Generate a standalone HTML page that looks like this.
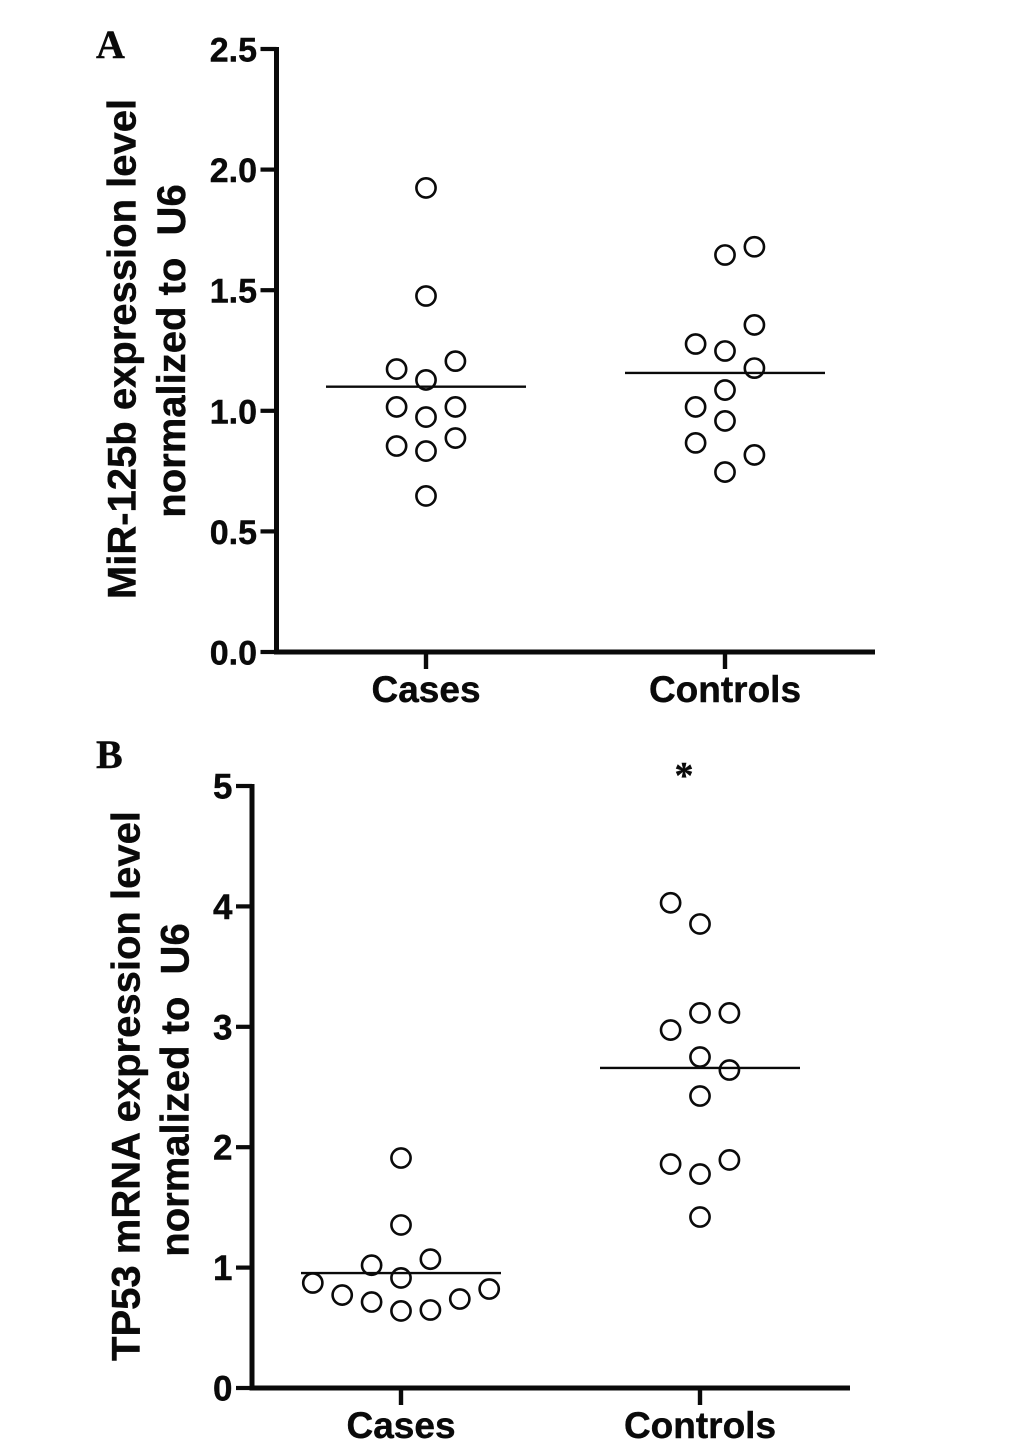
<!DOCTYPE html>
<html>
<head>
<meta charset="utf-8">
<style>
html,body{margin:0;padding:0;background:#fff;}
body{width:1033px;height:1450px;overflow:hidden;}
svg{display:block;}
text{font-family:"Liberation Sans",sans-serif;font-weight:bold;fill:#0a0a0a;stroke:#0a0a0a;stroke-width:0.4px;white-space:pre;}
</style>
</head>
<body>
<svg id="chart" width="1033" height="1450" viewBox="0 0 1033 1450" xmlns="http://www.w3.org/2000/svg"></svg>
<script>
const categories = ['Cases', 'Controls'];

const ticksA = ['0.0', '0.5', '1.0', '1.5', '2.0', '2.5'];
const casesA = [1.924, 1.476, 1.173, 1.206, 1.128, 1.016, 1.016, 0.974, 0.854, 0.887, 0.833, 0.647];
const casesSlotA = [0, 0, -1, 1, 0, -1, 1, 0, -1, 1, 0, 0];
const controlsA = [1.68, 1.646, 1.356, 1.277, 1.248, 1.177, 1.086, 1.016, 0.958, 0.867, 0.817, 0.746];
const controlsSlotA = [1, 0, 1, -1, 0, 1, 0, -1, 0, -1, 1, 0];
const meansA = [1.10, 1.157];

const ticksB = ['0', '1', '2', '3', '4', '5'];
const casesB = [1.91, 1.354, 1.02, 1.07, 0.914, 0.872, 0.822, 0.772, 0.739, 0.714, 0.64, 0.648];
const casesSlotB = [0, 0, -1, 1, 0, -3, 3, -2, 2, -1, 0, 1];
const controlsB = [4.03, 3.854, 3.115, 3.115, 2.973, 2.749, 2.641, 2.425, 1.86, 1.894, 1.777, 1.42];
const controlsSlotB = [-1, 0, 0, 1, -1, 0, 1, 0, -1, 1, 0, 0];
const meansB = [0.955, 2.658];

const svg = document.getElementById('chart');
const NS = 'http://www.w3.org/2000/svg';

function add(parent, tag, attrs, txt) {
  const el = document.createElementNS(NS, tag);
  for (const k in attrs) el.setAttribute(k, attrs[k]);
  if (txt !== undefined) el.textContent = txt;
  parent.appendChild(el);
  return el;
}

function drawPanel(p) {
  const g = add(svg, 'g', {});
  
  
  const y = v => p.y0 - (v / p.max) * (p.y0 - p.yTop);
  const cx = i => p.centers[i];
  const x = (i, slot) => cx(i) + slot * 29.4;

  const yAxis = add(g, 'line', {x1: p.axisX, x2: p.axisX, y1: p.yTop - 2, y2: p.y0 + 2.5, stroke: '#0a0a0a', 'stroke-width': 5});
  
  
  const xAxis = add(g, 'line', {x1: p.axisX - 2, x2: p.axisEnd, y1: p.y0, y2: p.y0, stroke: '#0a0a0a', 'stroke-width': 5});
  
  

  p.ticks.forEach((t) => {
    const v = parseFloat(t);
    const tick = add(g, 'line', {x1: p.axisX - 16, x2: p.axisX, y1: y(v), y2: y(v), stroke: '#0a0a0a', 'stroke-width': 4.2});
    
    
    const lab = add(g, 'text', {x: p.axisX - 19.5, y: y(v) + 12.5, 'text-anchor': 'end', 'font-size': p.tickFont}, t);
    
    
  });

  categories.forEach((c, i) => {
    const tick = add(g, 'line', {x1: cx(i), x2: cx(i), y1: p.y0, y2: p.y0 + 17, stroke: '#0a0a0a', 'stroke-width': 4.4});
    
    
    const lab = add(g, 'text', {x: cx(i), y: p.y0 + 50, 'text-anchor': 'middle', 'font-size': 37}, c);
    
    
  });

  p.series.forEach((s, i) => {
    s.values.forEach((v, j) => {
      const pt = add(g, 'circle', {cx: x(i, s.slots[j]), cy: y(v), r: 9.6, fill: '#fff', stroke: '#0a0a0a', 'stroke-width': 2.6});
      
      
    });
    const m = add(g, 'line', {x1: cx(i) - 100, x2: cx(i) + 100, y1: y(p.means[i]), y2: y(p.means[i]), stroke: '#0a0a0a', 'stroke-width': 2.4});
    
    
  });

  p.titles.forEach((t) => {
    const tt = add(g, 'text', {transform: 'translate(' + t.x + ',' + t.y + ') rotate(-90)', 'text-anchor': 'middle', 'font-size': t.size}, t.text);
    
    
  });

  const letter = add(g, 'text', {x: p.letterX, y: p.letterY, 'font-size': 40, style: 'font-family:"Liberation Serif",serif'}, p.id);
  
  
}

drawPanel({
  id: 'A', ticks: ticksA, max: 2.5, y0: 652, yTop: 49, axisX: 276.5, axisEnd: 875, tickFont: 34,
  centers: [426, 725], means: meansA,
  series: [{values: casesA, slots: casesSlotA}, {values: controlsA, slots: controlsSlotA}],
  titles: [
    {text: 'MiR-125b expression level', x: 135.5, y: 349, size: 40},
    {text: 'normalized to  U6', x: 185, y: 351, size: 40}
  ],
  letterX: 96, letterY: 58
});

drawPanel({
  id: 'B', ticks: ticksB, max: 5, y0: 1388, yTop: 786, axisX: 252, axisEnd: 850, tickFont: 35,
  centers: [401, 700], means: meansB,
  series: [{values: casesB, slots: casesSlotB}, {values: controlsB, slots: controlsSlotB}],
  titles: [
    {text: 'TP53 mRNA expression level', x: 139.5, y: 1086, size: 40},
    {text: 'normalized to  U6', x: 188.5, y: 1090, size: 40}
  ],
  letterX: 96, letterY: 768
});

const star = add(svg, 'text', {x: 684, y: 788, 'text-anchor': 'middle', 'font-size': 38, style: 'font-family:"Liberation Serif",serif;font-weight:bold'}, '*');


</script>
</body>
</html>
